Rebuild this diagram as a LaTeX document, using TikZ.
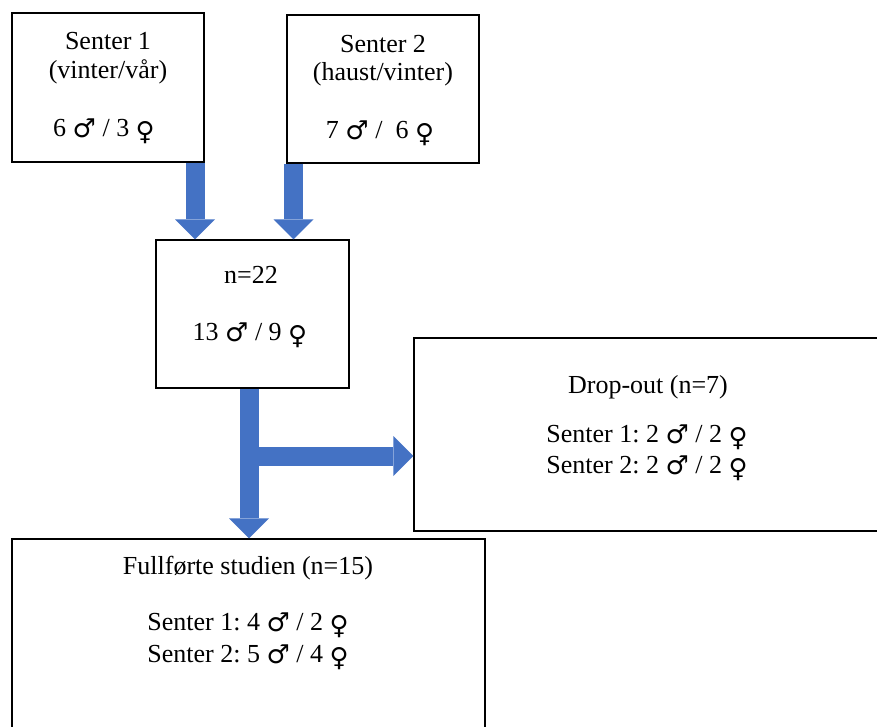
\documentclass[tikz,border=0pt]{standalone}
\usepackage{fontspec}
\setmainfont{Liberation Serif}
\newfontfamily\gsymfont{DejaVu Sans}
\newcommand\gmale{{\gsymfont\raisebox{-1pt}{♂}}}
\newcommand\gfemale{{\gsymfont\raisebox{-3.5pt}{♀}}}
\usetikzlibrary{arrows.meta}
\definecolor{arrowblue}{HTML}{4472C4}
\tikzset{
  box/.style={draw=black, line width=1pt, fill=none, inner sep=0pt, minimum width=#1},
  txt/.style={anchor=base, inner sep=0pt, font=\fontsize{19.5}{23}\selectfont\frenchspacing},
  blockarrow/.style={draw=arrowblue, line width=14.25pt,
    -{Triangle[length=15pt, width=30pt, line width=0pt, fill=arrowblue]}},
}
\begin{document}
\begin{tikzpicture}[x=0.75pt, y=-0.75pt]
\useasboundingbox (0,0) rectangle (877,726);
% boxes
\node[box=144pt, minimum height=111.75pt] (s1) at (108,87.5) {};
\node[box=144pt, minimum height=111pt] (s2) at (383,89) {};
\node[box=144.75pt, minimum height=111pt] (n22) at (252.5,314) {};
\node[box=351pt, minimum height=144.75pt] (drop) at (648,434.5) {};
\node[box=354.75pt, minimum height=154.5pt] (full) at (248.5,642) {};
% texts
\node[txt] (s1a) at (108,49) {Senter 1};
\node[txt] (s1b) at (108,78) {(vinter/vår)};
\node[txt] (s1c) at (104,136) {6 \gmale\ / 3 \gfemale};
\node[txt] (s2a) at (383,52) {Senter 2};
\node[txt] (s2b) at (383,80) {(haust/vinter)};
\node[txt] (s2c) at (380,138) {7 \gmale\ /\ \ 6 \gfemale};
\node[txt] (n22a) at (251,283) {n=22};
\node[txt] (n22b) at (250,340) {13 \gmale\ / 9 \gfemale};
\node[txt] (dropa) at (648,393) {Drop-out (n=7)};
\node[txt] (dropb) at (647,442) {Senter 1: 2 \gmale\ / 2 \gfemale};
\node[txt] (dropc) at (647,473) {Senter 2: 2 \gmale\ / 2 \gfemale};
\node[txt] (fulla) at (248,574) {Fullførte studien (n=15)};
\node[txt] (fullb) at (248,630) {Senter 1: 4 \gmale\ / 2 \gfemale};
\node[txt] (fullc) at (248,662) {Senter 2: 5 \gmale\ / 4 \gfemale};
% arrows
\coordinate (x1) at (195,0);
\coordinate (x2) at (293.5,0);
\coordinate (x3) at (249,0);
\coordinate (hy) at (249,456);
\draw[blockarrow] (x1 |- s1.south) -- (x1 |- n22.north);
\draw[blockarrow] (x2 |- s2.south) -- (x2 |- n22.north);
\draw[blockarrow] (x3 |- n22.south) -- (x3 |- full.north);
\draw[blockarrow] (hy) -- (hy -| drop.west);
\end{tikzpicture}
\end{document}
